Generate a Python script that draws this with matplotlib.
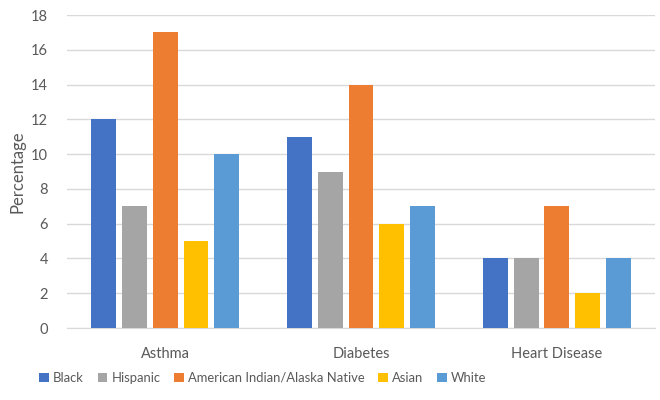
import numpy as np
import matplotlib
matplotlib.use("Agg")
import matplotlib.pyplot as plt

# ── data ────────────────────────────────────────────
categories = ["Asthma", "Diabetes", "Heart Disease"]
groups = ["Black", "Hispanic", "American Indian/Alaska Native", "Asian", "White"]
black    = [12, 11, 4]
hispanic = [7, 9, 4]
aian     = [17, 14, 7]
asian    = [5, 6, 2]
white    = [10, 7, 4]
series = [black, hispanic, aian, asian, white]
colours = ["#4472C4", "#A5A5A5", "#ED7D31", "#FFC000", "#5B9BD5"]

plt.rcParams.update({
    "font.family": ["Lato", "DejaVu Sans"],
    "font.size": 10.5,
    "text.color": "#595959",
    "axes.labelcolor": "#595959",
    "xtick.color": "#595959",
    "ytick.color": "#595959",
})

fig = plt.figure(figsize=(6.6, 4.0), dpi=100)
ax = fig.add_axes([0.102, 0.18, 0.89, 0.7825])

x = np.arange(len(categories))
pitch, width = 0.157, 0.127
for i, (vals, col, name) in enumerate(zip(series, colours, groups)):
    ax.bar(x + (i - 2) * pitch, vals, width, color=col, label=name, zorder=3)

ax.set_xlim(-0.5, 2.5)
ax.set_ylim(0, 18)
ax.set_yticks(range(0, 19, 2))
ax.set_xticks(x)
ax.set_xticklabels(categories)
ax.yaxis.grid(True, color="#D9D9D9", lw=1)
ax.set_axisbelow(True)
for s in ["top", "right", "left"]:
    ax.spines[s].set_visible(False)
ax.spines["bottom"].set_color("#D9D9D9")
ax.tick_params(axis="both", length=0, labelsize=10.5)
ax.tick_params(axis="x", pad=14)
ax.tick_params(axis="y", pad=14)
ax.set_ylabel("Percentage", fontsize=12, labelpad=4)

fig.legend(loc="center", bbox_to_anchor=(0.398, 0.055), ncol=5, frameon=False,
           handlelength=0.75, handleheight=0.75, handletextpad=0.3,
           columnspacing=1.05, fontsize=9.4)

fig.savefig("out.png", dpi=100)
